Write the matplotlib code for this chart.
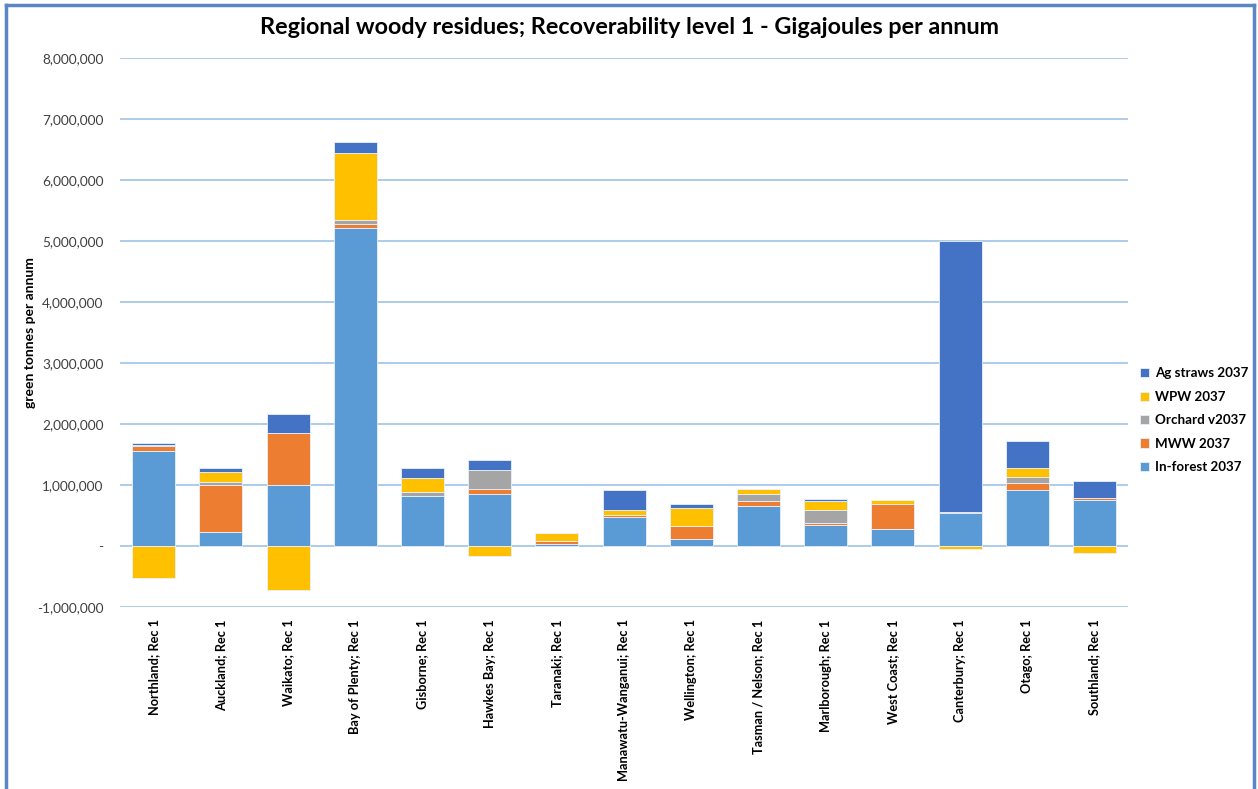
import numpy as np
import matplotlib
matplotlib.use("Agg")
import matplotlib.pyplot as plt
from matplotlib.lines import Line2D
from matplotlib.ticker import FuncFormatter

plt.rcParams['font.family'] = ['Lato', 'DejaVu Sans']

regions = ["Northland; Rec 1", "Auckland; Rec 1", "Waikato; Rec 1", "Bay of Plenty; Rec 1",
           "Gisborne; Rec 1", "Hawkes Bay; Rec 1", "Taranaki; Rec 1", "Manawatu-Wanganui; Rec 1",
           "Wellington; Rec 1", "Tasman / Nelson; Rec 1", "Marlborough; Rec 1", "West Coast; Rec 1",
           "Canterbury; Rec 1", "Otago; Rec 1", "Southland; Rec 1"]

in_forest = [1560000, 235000, 1000000, 5220000, 825000, 857000, 30000, 480000,
             115000, 655000, 345000, 275000, 535000, 918000, 755000]
mww = [80000, 765000, 850000, 65000, 0, 70000, 50000, 30000,
       220000, 85000, 35000, 420000, 20000, 120000, 35000]
orchard = [10000, 55000, 10000, 60000, 65000, 315000, 5000, 0,
           0, 110000, 205000, 0, 0, 85000, 0]
wpw = [-520000, 155000, -720000, 1090000, 230000, -170000, 120000, 75000,
       285000, 85000, 145000, 60000, -55000, 160000, -120000]
ag_straws = [40000, 65000, 300000, 180000, 155000, 160000, 0, 325000,
             65000, 0, 40000, 0, 4445000, 430000, 270000]

series = [("In-forest 2037", in_forest, "#5B9BD5"),
          ("MWW 2037", mww, "#ED7D31"),
          ("Orchard v2037", orchard, "#A5A5A5"),
          ("WPW 2037", wpw, "#FFC000"),
          ("Ag straws 2037", ag_straws, "#4472C4")]

fig = plt.figure(figsize=(12.58, 7.89), dpi=100)
ax = fig.add_axes([0.0954, 0.2307, 0.8013, 0.6958])

x = np.arange(len(regions))
pos_bottom = np.zeros(len(regions))
neg_bottom = np.zeros(len(regions))
handles = []
for name, vals, color in series:
    v = np.array(vals, dtype=float)
    bottom = np.where(v >= 0, pos_bottom, neg_bottom)
    b = ax.bar(x, v, 0.64, bottom=bottom, color=color, edgecolor="#EAF1FA",
               linewidth=0.6, label=name, zorder=3)
    handles.append(b)
    pos_bottom += np.where(v > 0, v, 0)
    neg_bottom += np.where(v < 0, v, 0)

ax.set_xlim(-0.5, len(regions) - 0.5)
ax.set_ylim(-1000000, 8000000)
ax.set_yticks(np.arange(-1000000, 8000001, 1000000))
ax.yaxis.set_major_formatter(FuncFormatter(lambda v, p: "-" if v == 0 else f"{v:,.0f}"))
ax.grid(axis="y", color="#9DC3E6", linewidth=1.2, zorder=0)
for s in ax.spines.values():
    s.set_visible(False)
ax.tick_params(axis="both", length=0)
ax.tick_params(axis="y", labelsize=9.8, colors="#404040", pad=12)
ax.set_xticks(x)
ax.set_xticklabels(regions, rotation=90, fontsize=9.2, fontweight="bold", va="top")
ax.tick_params(axis="x", pad=9)
ax.set_ylabel("green tonnes per annum", fontsize=10, fontweight="bold")
ax.yaxis.set_label_coords(-0.083, 0.5)

fig.suptitle("Regional woody residues; Recoverability level 1 - Gigajoules per annum",
             x=0.5, y=0.978, fontsize=16.8, fontweight="bold")

leg = ax.legend(handles[::-1], [s[0] for s in series][::-1], loc="center left",
                bbox_to_anchor=(1.0, 0.34), frameon=False,
                prop={"weight": "bold", "size": 9.6}, handlelength=0.7, handleheight=0.7,
                handletextpad=0.4, labelspacing=0.86)

# chart frame
fc = "#5B86C5"
fig.add_artist(Line2D([0.005, 0.005], [0.0, 0.994], color=fc, lw=2.5, transform=fig.transFigure))
fig.add_artist(Line2D([0.005, 0.997], [0.994, 0.994], color=fc, lw=2.5, transform=fig.transFigure))
fig.add_artist(Line2D([0.997, 0.997], [0.0, 0.994], color=fc, lw=2.5, transform=fig.transFigure))

fig.savefig("out.png", dpi=100)
